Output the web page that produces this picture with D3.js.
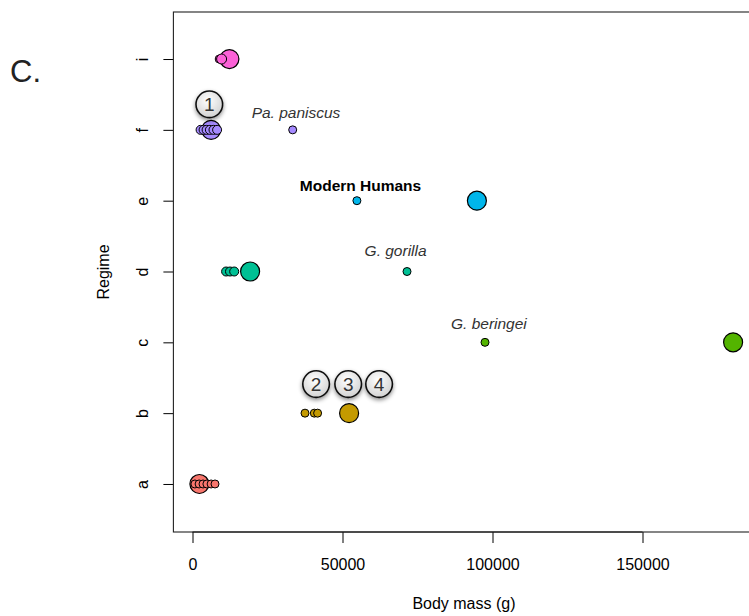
<!DOCTYPE html>
<html>
<head>
<meta charset="utf-8">
<script src="https://cdn.jsdelivr.net/npm/d3@7"></script>
<style>
html,body{margin:0;padding:0;background:#fff;}
svg{display:block;}
text{font-family:"Liberation Sans", Arial, Helvetica, sans-serif;}
</style>
</head>
<body>
<svg id="chart" width="749" height="616"></svg>
<script>
// ---- data ----
const regimes = ["a","b","c","d","e","f","i"];
const regimeColors = ["#F8766D","#C49A00","#53B400","#00C094","#00B6EB","#A58AFF","#FB61D7"];
const xTicks = [0, 50000, 100000, 150000];

// large circles (regime optimum)
const bigRegime = ["i","f","e","d","c","b","a"];
const bigMass   = [12300, 6200, 94800, 19200, 180200, 52200, 2300];

// small circles (species)
const smallRegime = ["i","i","f","f","f","f","f","f","f","e","d","d","d","d","c","b","b","b","a","a","a","a","a","a"];
const smallMass   = [8900,9700,2700,3700,4700,5800,7000,8200,33400,54800,11200,12500,13900,71500,97500,37500,40600,41700,800,2200,3500,4800,6200,7500];
const smallSize   = [4,5,4.5,4.5,4.5,4.5,4.5,4.5,4,4,4.5,4.5,4.5,4,4,4,4,4,4,4,4,4,4,4];

// species labels
const labelText   = ["Pa. paniscus","Modern Humans","G. gorilla","G. beringei"];
const labelMass   = [34500, 56000, 67700, 98800];
const labelLevel  = [6.24, 5.22, 4.29, 3.27];
const labelItalic = [true, false, true, true];

// circled numbers
const badgeText  = ["1","2","3","4"];
const badgeMass  = [5600, 41200, 51900, 62200];
const badgeLevel = [6.36, 2.41, 2.41, 2.41];

// ---- drawing ----
const svg = d3.select("#chart");
const x = d3.scaleLinear().domain([-6367, 187333]).range([173.4, 754.5]);
const y = d3.scaleLinear().domain([0.322, 7.664]).range([532, 12]);
const lvl = r => regimes.indexOf(r) + 1;
const col = r => regimeColors[regimes.indexOf(r)];

const defs = svg.append("defs");
const grad = defs.append("radialGradient").attr("id","badgeGrad").attr("cx","45%").attr("cy","35%").attr("r","70%");
grad.append("stop").attr("offset","0%").attr("stop-color","#ffffff");
grad.append("stop").attr("offset","100%").attr("stop-color","#cfcfcf");
const sh = defs.append("filter").attr("id","shadow").attr("x","-50%").attr("y","-50%").attr("width","200%").attr("height","200%");
sh.append("feDropShadow").attr("dx",0).attr("dy",2).attr("stdDeviation",2).attr("flood-color","#000").attr("flood-opacity",0.45);

// x axis
const xAxis = svg.append("g").attr("transform","translate(0,532)")
  .call(d3.axisBottom(x).tickValues(xTicks).tickFormat(d3.format("d")).tickSize(11).tickPadding(16).tickSizeOuter(0));
xAxis.select(".domain").remove();
xAxis.append("line").attr("x1",x(0)).attr("x2",x(150000)).attr("stroke","#000");
xAxis.selectAll("text").attr("font-size",16).attr("fill","#000");
xAxis.selectAll(".tick line").attr("stroke","#000");

// y axis
const yAxis = svg.append("g").attr("transform","translate(173.4,0)")
  .call(d3.axisLeft(y).tickValues(d3.range(1, regimes.length + 1)).tickFormat(d => regimes[d-1]).tickSize(10).tickSizeOuter(0));
yAxis.select(".domain").remove();
yAxis.selectAll(".tick line").attr("stroke","#000");
yAxis.selectAll(".tick text")
  .attr("font-size",16).attr("fill","#000")
  .attr("x",null).attr("dy",null)
  .attr("text-anchor","middle")
  .attr("transform","translate(-31,0) rotate(-90)")
  .attr("dominant-baseline","central");

// box
svg.append("rect").attr("x",173.4).attr("y",12).attr("width",754.5-173.4).attr("height",520)
  .attr("fill","none").attr("stroke","#222").attr("stroke-width",1.1);

// axis titles
svg.append("text").attr("x",(173.4+754.5)/2).attr("y",609).attr("text-anchor","middle").attr("font-size",16).text("Body mass (g)");
svg.append("text").attr("transform","translate(109,272) rotate(-90)").attr("text-anchor","middle").attr("font-size",16).text("Regime");

// panel letter
svg.append("text").attr("x",10).attr("y",82).attr("font-size",31).attr("fill","#222").text("C.");

// big circles
svg.append("g").selectAll("circle").data(bigMass.map((m,i)=>({m, r:bigRegime[i]}))).join("circle")
  .attr("cx",d=>x(d.m)).attr("cy",d=>y(lvl(d.r))).attr("r",9.5)
  .attr("fill",d=>col(d.r)).attr("stroke","#000").attr("stroke-width",1.2);

// small circles
svg.append("g").selectAll("circle").data(smallMass.map((m,i)=>({m, r:smallRegime[i], s:smallSize[i]}))).join("circle")
  .attr("cx",d=>x(d.m)).attr("cy",d=>y(lvl(d.r))).attr("r",d=>d.s)
  .attr("fill",d=>col(d.r)).attr("stroke","#000").attr("stroke-width",1);

// labels
labelText.forEach((t,i)=>{
  svg.append("text").attr("x",x(labelMass[i])).attr("y",y(labelLevel[i]))
    .attr("text-anchor","middle").attr("dominant-baseline","central")
    .attr("font-size",15.5)
    .attr("font-style",labelItalic[i]?"italic":"normal")
    .attr("font-weight",labelItalic[i]?"normal":"bold")
    .attr("fill",labelItalic[i]?"#333":"#000")
    .text(t);
});

// badges
badgeText.forEach((t,i)=>{
  const g = svg.append("g").attr("transform",`translate(${x(badgeMass[i])},${y(badgeLevel[i])})`);
  g.append("circle").attr("r",13.3).attr("fill","url(#badgeGrad)").attr("stroke","#111").attr("stroke-width",1.6).attr("filter","url(#shadow)");
  g.append("text").attr("text-anchor","middle").attr("dominant-baseline","central").attr("y",0.5)
    .attr("font-size",19).attr("fill","#333").text(t);
});
</script>
</body>
</html>
